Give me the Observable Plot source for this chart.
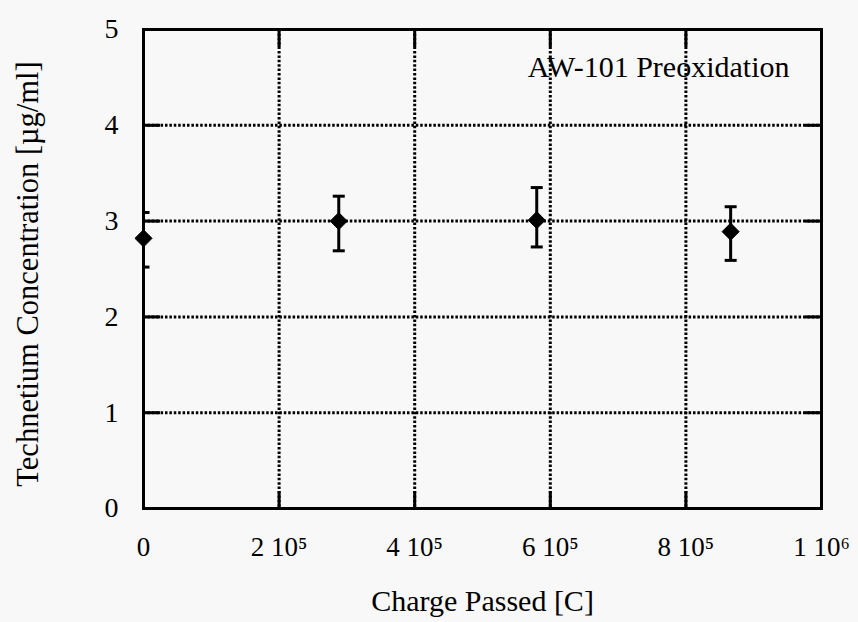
<!DOCTYPE html>
<html>
<head>
<meta charset="utf-8">
<script src="https://cdn.jsdelivr.net/npm/d3@7"></script>
<script src="https://cdn.jsdelivr.net/npm/@observablehq/plot@0.6"></script>
<style>
  html, body { margin: 0; padding: 0; background: #f8f8f8; }
  svg { font-family: "Liberation Serif", "Times New Roman", serif; }
</style>
</head>
<body>
<div id="chart"></div>
<script>
// Data
const charge = [0, 288000, 580000, 866000];          // Charge passed [C]
const conc   = [2.82, 3.00, 3.01, 2.89];             // Tc concentration [µg/ml]
const errLow = [2.52, 2.69, 2.73, 2.59];
const errHigh = [3.09, 3.26, 3.35, 3.15];

const xTicks = [0, 200000, 400000, 600000, 800000, 1000000];
const xTickLabels = ["0", "2 10⁵", "4 10⁵", "6 10⁵", "8 10⁵", "1 10⁶"];
const yTicks = [0, 1, 2, 3, 4, 5];
const xGrid = [200000, 400000, 600000, 800000];
const yGrid = [1, 2, 3, 4];

const xLabel = "Charge Passed [C]";
const yLabel = "Technetium Concentration [µg/ml]";
const annotation = "AW-101 Preoxidation";

const data = charge.map((c, i) => ({x: c, y: conc[i], lo: errLow[i], hi: errHigh[i]}));

const capSymbol = {
  draw(context) { context.moveTo(-6, 0); context.lineTo(6, 0); }
};

const dotted = {stroke: "black", strokeOpacity: 1, strokeWidth: 3, strokeDasharray: "2.5,1.9"};

const chart = Plot.plot({
  width: 858,
  height: 622,
  marginLeft: 143,
  marginRight: 37,
  marginTop: 29,
  marginBottom: 114,
  style: {background: "transparent", fontFamily: "Liberation Serif, Times New Roman, serif"},
  x: {domain: [0, 1000000]},
  y: {domain: [0, 5]},
  marks: [
    Plot.gridX(xGrid, dotted),
    Plot.gridY(yGrid, dotted),
    // inward ticks
    Plot.axisX(xTicks, {anchor: "bottom", tickSize: -17, strokeWidth: 3, text: null, label: null}),
    Plot.axisX(xTicks, {anchor: "top", tickSize: -17, strokeWidth: 3, text: null, label: null}),
    Plot.axisY(yTicks, {anchor: "left", tickSize: -17, strokeWidth: 3, text: null, label: null}),
    Plot.axisY(yTicks, {anchor: "right", tickSize: -17, strokeWidth: 3, text: null, label: null}),
    // tick labels
    Plot.axisX(xTicks, {anchor: "bottom", tickSize: 0, tickPadding: 28, fontSize: 27,
      tickFormat: (d) => xTickLabels[xTicks.indexOf(d)], label: null, fill: "black"}),
    Plot.axisY(yTicks, {anchor: "left", tickSize: 0, tickPadding: 25, fontSize: 28,
      tickFormat: (d) => String(d), label: null, fill: "black"}),
    Plot.frame({stroke: "black", strokeWidth: 3}),
    // error bars
    Plot.ruleX(data, {x: "x", y1: "lo", y2: "hi", stroke: "black", strokeWidth: 3}),
    Plot.dot(data, {x: "x", y: "lo", symbol: capSymbol, stroke: "black", strokeWidth: 3, fill: "none", clip: true}),
    Plot.dot(data, {x: "x", y: "hi", symbol: capSymbol, stroke: "black", strokeWidth: 3, fill: "none", clip: true}),
    Plot.dot(data, {x: "x", y: "y", symbol: "diamond2", r: 7.7, fill: "black", stroke: "black", strokeWidth: 1}),
    // texts
    Plot.text([annotation], {frameAnchor: "top-right", dx: -32, dy: 26, textAnchor: "end", lineAnchor: "top", fontSize: 30, fill: "black"}),
    Plot.text([xLabel], {frameAnchor: "bottom", dy: 93, textAnchor: "middle", lineAnchor: "middle", fontSize: 30, fill: "black"}),
    Plot.text([yLabel], {frameAnchor: "left", dx: -115, dy: 5, rotate: -90, textAnchor: "middle", lineAnchor: "middle", fontSize: 30.5, fill: "black"})
  ]
});
document.getElementById("chart").appendChild(chart);
</script>
</body>
</html>
